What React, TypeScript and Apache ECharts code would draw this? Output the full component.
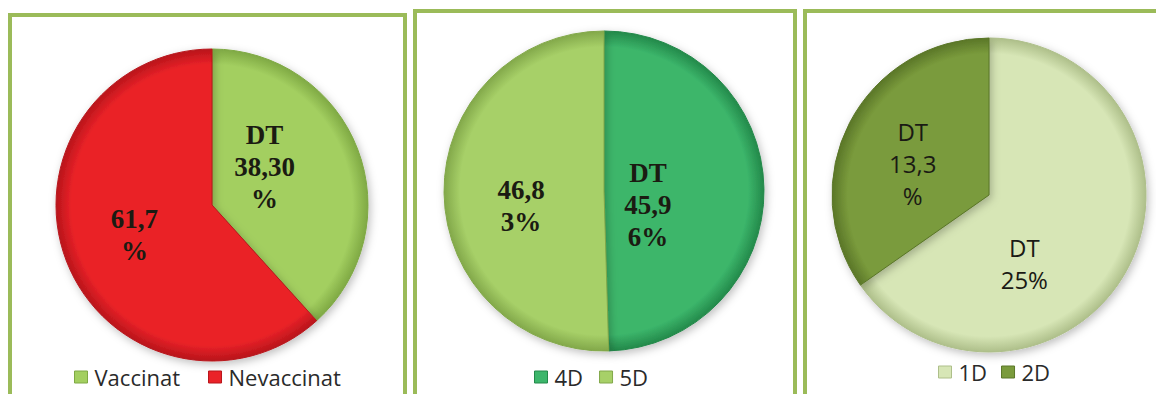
import React, { useEffect, useRef } from "react";
import * as echarts from "echarts";

// Chart 1
const c1Names = ["Vaccinat", "Nevaccinat"];
const c1Values = [38.3, 61.7];
const c1Labels = ["DT\n38,30\n%", "61,7\n%"];
// Chart 2
const c2Names = ["4D", "5D"];
const c2Values = [45.96, 46.83];
const c2Labels = ["DT\n45,9\n6%", "46,8\n3%"];
// Chart 3
const c3Names = ["1D", "2D"];
const c3Values = [25, 13.3];
const c3Labels = ["DT\n25%", "DT\n13,3\n%"];

const c1Colors = [["#a3cf60", "#7fa944"], ["#ea2228", "#b8151b"]];
const c2Colors = [["#3cb66b", "#23894a"], ["#a7d068", "#82a84a"]];
const c3Colors = [["#d7e6b6", "#aebf8a"], ["#7a9b3c", "#5a7628"]];

function grad(cx: number, cy: number, r: number, c: string[]) {
  return {
    type: "radial",
    x: cx,
    y: cy,
    r: r,
    global: true,
    colorStops: [
      { offset: 0, color: c[0] },
      { offset: 0.9, color: c[0] },
      { offset: 1, color: c[1] },
    ],
  };
}

function makePie(
  names: string[],
  values: number[],
  labels: string[],
  colors: string[][],
  center: number[],
  r: number,
  offsets: number[][],
  labelStyle: any
) {
  return {
    type: "pie",
    center: center,
    radius: r,
    startAngle: 90,
    clockwise: true,
    avoidLabelOverlap: false,
    labelLine: { show: false },
    emphasis: { disabled: true },
    data: names.map((n, i) => ({
      name: n,
      value: values[i],
      itemStyle: {
        color: grad(center[0], center[1], r, colors[i]),
        borderColor: colors[i][1],
        borderWidth: 1,
        shadowBlur: 8,
        shadowOffsetY: 3,
        shadowOffsetX: 2,
        shadowColor: "rgba(0,0,0,0.25)",
      },
      label: {
        show: true,
        position: "inside",
        formatter: labels[i],
        offset: offsets[i],
        textBorderWidth: 0,
        ...labelStyle,
      },
    })),
  };
}

const serifBold = {
  fontFamily: "'Liberation Serif', 'DejaVu Serif', serif",
  fontWeight: "bold",
  fontSize: 27,
  lineHeight: 32,
  color: "#1b1b12",
};
const sansReg = {
  fontFamily: "'Open Sans', 'Noto Sans', sans-serif",
  fontWeight: "normal",
  fontSize: 24,
  lineHeight: 32,
  color: "#1a1a14",
};

function legendFor(names: string[], colors: string[][], left: number, top: number, gap: number) {
  return {
    data: names.map((n, i) => ({
      name: n,
      itemStyle: { color: colors[i][0], borderColor: colors[i][1], borderWidth: 1 },
    })),
    left: left,
    top: top,
    orient: "horizontal",
    itemWidth: 13,
    itemHeight: 12,
    itemGap: gap,
    icon: "rect",
    selectedMode: false,
    textStyle: {
      fontFamily: "'Open Sans', 'Noto Sans', sans-serif",
      fontSize: 22,
      lineHeight: 22,
      color: "#2a2a2a",
      padding: [0, 0, 0, 2],
    },
  };
}

export default function App() {
  const ref = useRef<HTMLDivElement>(null);
  useEffect(() => {
    if (!ref.current) return;
    const chart = echarts.init(ref.current, null, { renderer: "svg" });
    const border = { fill: "none", stroke: "#9bbb59", lineWidth: 4 };
    chart.setOption({
      animation: false,
      backgroundColor: "#ffffff",
      graphic: [
        { type: "rect", shape: { x: 10, y: 15, width: 395, height: 420 }, style: border, z: 0 },
        { type: "rect", shape: { x: 415, y: 11, width: 380, height: 420 }, style: border, z: 0 },
        { type: "rect", shape: { x: 805, y: 11, width: 380, height: 420 }, style: border, z: 0 },
      ],
      legend: [
        legendFor(c1Names, c1Colors, 69, 361, 28),
        legendFor(c2Names, c2Colors, 529, 361, 16),
        legendFor(c3Names, c3Colors, 933, 356, 14),
      ],
      series: [
        makePie(c1Names, c1Values, c1Labels, c1Colors, [212, 205], 156, [[-23, -9], [-2, 1]], serifBold),
        makePie(c2Names, c2Values, c2Labels, c2Colors, [604, 191], 160, [[-39, 15], [0, 14]], serifBold),
        makePie(c3Names, c3Values, c3Labels, c3Colors, [989, 195], 157, [[-37, 31], [-4, 6]], sansReg),
      ],
    });
    return () => chart.dispose();
  }, []);
  return (
    <div
      ref={ref}
      style={{ position: "absolute", left: 0, top: 0, width: 1156, height: 394, background: "#fff" }}
    />
  );
}
